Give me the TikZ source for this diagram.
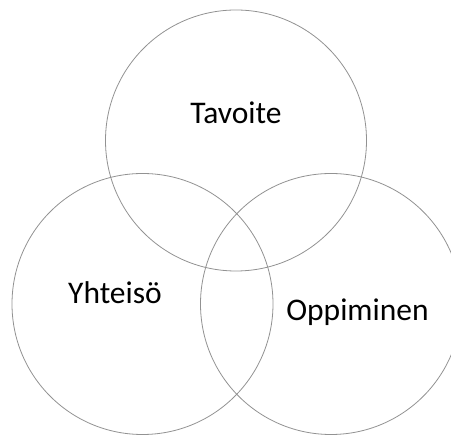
\documentclass[tikz,border=0pt]{standalone}
\usepackage{fontspec}
\setmainfont{Carlito}
\usepackage{tikz}
\definecolor{RingGray}{HTML}{929292}

\begin{document}
\begin{tikzpicture}[x=1pt,y=-1pt,
  ring/.style={circle,draw=RingGray,line width=0.8pt,minimum size=261pt,inner sep=0pt},
  word/.style={font=\fontsize{31.5}{34}\selectfont,text=black}]
  \useasboundingbox (0,0) rectangle (451,435);
  \node[ring] (goal) at (236,140.5) {};
  \node[ring] (community) at (142.5,304) {};
  \node[ring] (learning) at (331,304) {};
  \node[word] (goalText) at (236,113) {Tavoite};
  \node[word] (communityText) at (115,293) {Yhteisö};
  \node[word] (learningText) at (357.5,312) {Oppiminen};
\end{tikzpicture}
\end{document}
